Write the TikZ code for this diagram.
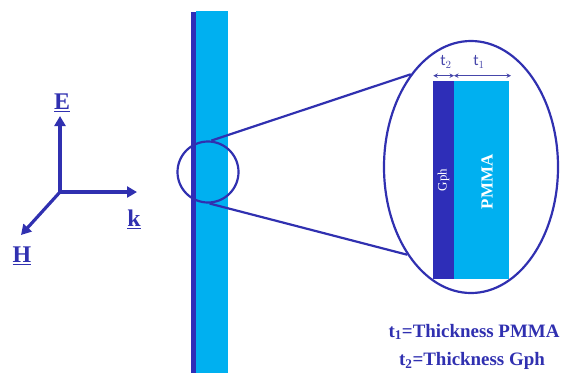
\documentclass[tikz,border=0pt]{standalone}
\usepackage{fontspec}
\setmainfont{Liberation Serif}
\newfontfamily\calib{Carlito}
\usetikzlibrary{arrows.meta,shapes.geometric}
\definecolor{navyb}{RGB}{48,48,176}
\definecolor{slabdark}{RGB}{46,46,184}
\definecolor{slablight}{RGB}{0,176,240}
\definecolor{tlab}{RGB}{70,70,170}
\tikzset{
  axis/.style={navyb,line width=3.2pt,-{Triangle[length=10bp,width=11bp]}},
  axlabel/.style={text=navyb,font=\fontsize{24}{24}\selectfont\bfseries},
  zoomline/.style={navyb,line width=2.2pt},
  dim/.style={tlab,line width=0.9pt,{Stealth[length=4.5bp,width=4.5bp]}-{Stealth[length=4.5bp,width=4.5bp]}},
  legend/.style={text=navyb,font=\fontsize{19}{19}\selectfont\bfseries,anchor=center}
}
\begin{document}
\begin{tikzpicture}[x=1bp,y=-1bp]
\useasboundingbox (0,0) rectangle (561,373);
% main slab
\fill[slablight] (195.7,10.7) rectangle (227.7,373);
\fill[slabdark] (190.7,11.7) rectangle (195.9,373);
% axes
\coordinate (O) at (60,192);
\coordinate (Ee) at (60,116);
\coordinate (Ke) at (137,192);
\coordinate (He) at (21,235);
\draw[axis] (O) -- (Ee);
\draw[axis] (O) -- (Ke);
\draw[axis] (O) -- (He);
\node[axlabel] (E) at (62,103) {\underline{E}};
\node[axlabel] (K) at (134,219) {\underline{k}};
\node[axlabel] (H) at (22,256) {\underline{H}};
% inset layers
\fill[slabdark] (433.3,80.7) rectangle (454,279);
\fill[slablight] (454,80.7) rectangle (509.3,279);
\node[rotate=90,text=white,font=\fontsize{13}{13}\selectfont] (gph) at (443.5,180) {Gph};
\node[rotate=90,text=white,font=\fontsize{17}{17}\selectfont\bfseries] (pmma) at (487,182) {PMMA};
% circles
\node[draw=navyb,line width=2.2pt,circle,minimum size=61bp,inner sep=0] (sc) at (208,172) {};
\node[draw=navyb,line width=2.2pt,ellipse,minimum width=174bp,minimum height=252bp,inner sep=0] (be) at (471,167) {};
\draw[zoomline] (sc.84) -- (be.123.6);
\draw[zoomline] (sc.273) -- (be.234.4);
% dimensions
\coordinate (d0) at (433.3,75.7);
\coordinate (d1) at (454,75.7);
\coordinate (d2) at (511,75.7);
\draw[dim] (d0) -- (d1);
\draw[dim] (d1) -- (d2);
\node[text=tlab,font=\calib\fontsize{16}{16}\selectfont] (t2) at (446,62) {t$_2$};
\node[text=tlab,font=\calib\fontsize{16}{16}\selectfont] (t1) at (479,62) {t$_1$};
% legend
\node[legend] (l1) at (474,332) {t\textsubscript{1}=Thickness PMMA};
\node[legend] (l2) at (472,361) {t\textsubscript{2}=Thickness Gph};
\end{tikzpicture}
\end{document}
